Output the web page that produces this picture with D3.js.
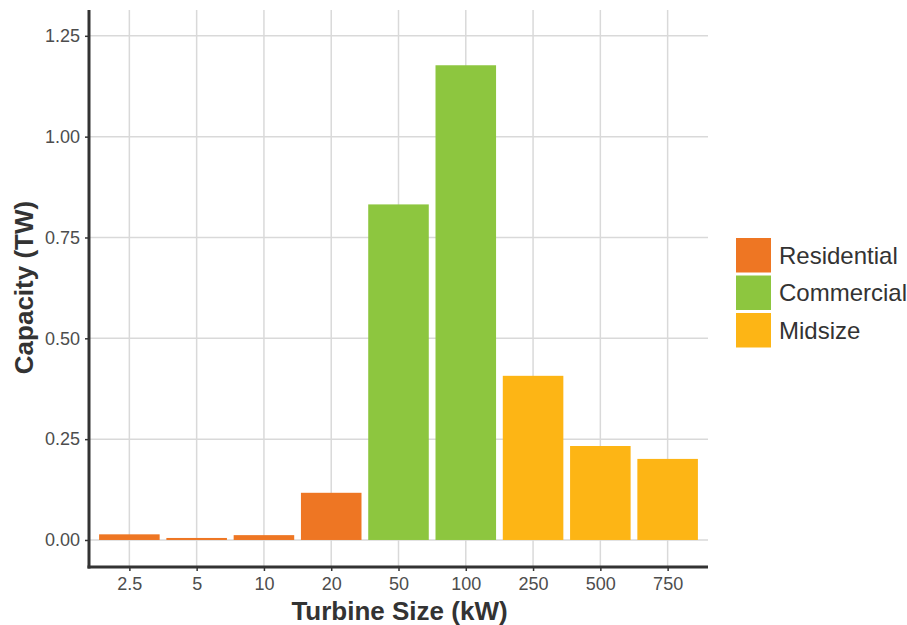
<!DOCTYPE html>
<html><head><meta charset="utf-8">
<script src="https://cdn.jsdelivr.net/npm/d3@7"></script>
<style>
body{margin:0;background:#fff;}
svg{display:block;font-family:"Liberation Sans",Arial,sans-serif;}
</style></head>
<body><svg id="c" width="907" height="625"></svg>
<script>
const categories = ["2.5","5","10","20","50","100","250","500","750"];
const values = [0.014,0.005,0.012,0.117,0.832,1.177,0.407,0.233,0.201];
const groups = ["Residential","Residential","Residential","Residential","Commercial","Commercial","Midsize","Midsize","Midsize"];
const legendLabels = ["Residential","Commercial","Midsize"];
const legendColors = ["#EE7623","#8DC63F","#FDB515"];
const yTicks = [0,0.25,0.5,0.75,1.0,1.25];

const svg = d3.select("#c");
const L = 89, R = 708, T = 10, B = 567;
const x = d3.scalePoint().domain(categories).range([L,R]).padding(0.6);
const y = d3.scaleLinear().domain([-0.067,1.314]).range([B,T]);
const color = d3.scaleOrdinal().domain(legendLabels).range(legendColors);
const bw = x.step()*0.9;

// grid
svg.append("g").selectAll("line.h").data(yTicks).join("line")
  .attr("x1",L).attr("x2",R).attr("y1",d=>y(d)).attr("y2",d=>y(d))
  .attr("stroke","#d9d9d9").attr("stroke-width",1.5);
svg.append("g").selectAll("line.v").data(categories).join("line")
  .attr("x1",d=>x(d)).attr("x2",d=>x(d)).attr("y1",T).attr("y2",B)
  .attr("stroke","#d9d9d9").attr("stroke-width",1.5);

// bars
svg.append("g").selectAll("rect").data(categories).join("rect")
  .attr("x",d=>x(d)-bw/2).attr("width",bw)
  .attr("y",(d,i)=>y(values[i])).attr("height",(d,i)=>y(0)-y(values[i]))
  .attr("fill",(d,i)=>color(groups[i]));

// axes
const yAx = svg.append("g").attr("transform",`translate(${L},0)`)
  .call(d3.axisLeft(y).tickValues(yTicks).tickFormat(d3.format(".2f")).tickSize(4).tickPadding(5));
const xAx = svg.append("g").attr("transform",`translate(0,${B})`)
  .call(d3.axisBottom(x).tickSize(4).tickPadding(6));
[yAx,xAx].forEach(g=>{
  g.select(".domain").remove();
  g.selectAll(".tick line").attr("stroke","#333").attr("stroke-width",1.5);
  g.selectAll(".tick text").attr("fill","#4d4d4d").style("font-size","18px").style("font-family","'Liberation Sans',Arial,sans-serif");
});
svg.append("line").attr("x1",L).attr("x2",L).attr("y1",T).attr("y2",B+1.5).attr("stroke","#333").attr("stroke-width",3);
svg.append("line").attr("x1",L-1.5).attr("x2",R).attr("y1",B).attr("y2",B).attr("stroke","#333").attr("stroke-width",3);

// titles
svg.append("text").attr("x",(L+R)/2+1).attr("y",620).attr("text-anchor","middle")
  .attr("fill","#333").style("font-size","26px").style("font-weight","bold").text("Turbine Size (kW)");
svg.append("text").attr("transform",`translate(33,${(T+B)/2-1}) rotate(-90)`).attr("text-anchor","middle")
  .attr("fill","#333").style("font-size","26px").style("font-weight","bold").text("Capacity (TW)");

// legend
const lg = svg.append("g").attr("transform","translate(736,238)");
const it = lg.selectAll("g").data(legendLabels).join("g").attr("transform",(d,i)=>`translate(0,${i*37.5})`);
it.append("rect").attr("width",35).attr("height",34.5).attr("fill",d=>color(d));
it.append("text").attr("x",43).attr("y",17.5).attr("dy","0.35em").attr("fill","#333").style("font-size","24px").text(d=>d);
</script></body></html>
